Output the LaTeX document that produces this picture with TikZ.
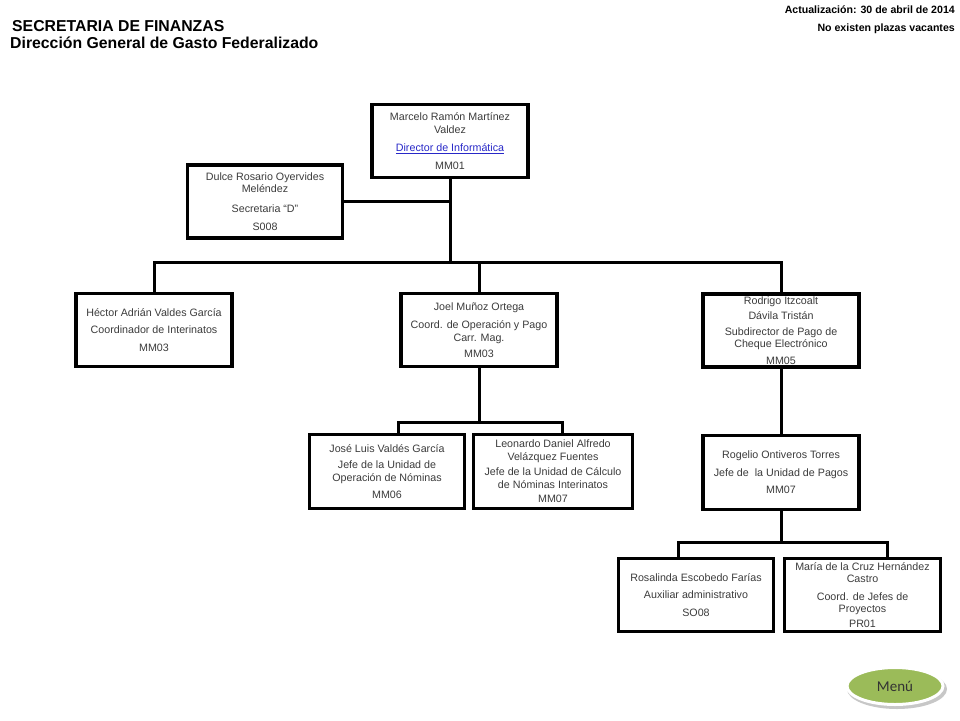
\documentclass[tikz,border=0pt]{standalone}
\usepackage{fontspec}
\setmainfont{Liberation Sans}
\newfontfamily\menufont{Carlito}
\usetikzlibrary{shapes.geometric}
\definecolor{txt}{RGB}{60,60,60}
\definecolor{lnk}{RGB}{40,40,200}
\definecolor{menugreen}{RGB}{155,187,89}
\begin{document}
\begin{tikzpicture}[x=1pt,y=-1pt,
  box/.style={draw=black, line width=3.5pt, rectangle, align=center, text=txt,
    font=\fontsize{10.7}{12.5}\selectfont, inner sep=0pt,
    minimum width=156pt, minimum height=73pt},
  conn/.style={draw=black, line width=3pt},
  head/.style={anchor=base west, inner sep=0pt, font=\fontsize{15.8}{18}\selectfont\bfseries},
  note/.style={anchor=base east, inner sep=0pt, font=\fontsize{10.6}{12}\selectfont\bfseries}]
\useasboundingbox (0,0) rectangle (960,720);
\fill[white] (0,0) rectangle (960,720);

% header
\node[head] (t1) at (12,31) {SECRETARIA DE FINANZAS};
\node[head] (t2) at (10,48) {Dirección General de Gasto Federalizado};
\node[note] (n1) at (955,13) {Actualización: 30 de abril de 2014};
\node[note] (n2) at (955,31) {No existen plazas vacantes};

% boxes
\node[box] (marcelo) at (450,141) {Marcelo Ramón Martínez\\Valdez\\[6pt]\textcolor{lnk}{\underline{Director de Informática}}\\[5pt]MM01};
\node[box, minimum width=155pt] (dulce) at (265,201.5) {Dulce Rosario Oyervides\\Meléndez\\[7pt]Secretaria “D”\\[6pt]S008};
\node[box] (hector) at (154,330) {Héctor Adrián Valdes García\\[5pt]Coordinador de Interinatos\\[5pt]MM03};
\node[box] (joel) at (479,330) {Joel Muñoz Ortega\\[6pt]Coord. de Operación y Pago\\Carr. Mag.\\[4pt]MM03};
\node[box] (rodrigo) at (781,330.5) {Rodrigo Itzcoalt\\[3pt]Dávila Tristán\\[3pt]Subdirector de Pago de\\Cheque Electrónico\\[4pt]MM05};
\node[box, minimum width=155pt, minimum height=74pt] (jose) at (387,471.5) {José Luis Valdés García\\[4pt]Jefe de la Unidad de\\Operación de Nóminas\\[5pt]MM06};
\node[box, minimum width=159pt, minimum height=74pt] (leonardo) at (553,471.5) {Leonardo Daniel Alfredo\\Velázquez Fuentes\\[3pt]Jefe de la Unidad de Cálculo\\de Nóminas Interinatos\\[2pt]MM07};
\node[box, minimum height=74pt] (rogelio) at (781,472.5) {Rogelio Ontiveros Torres\\[5pt]Jefe de\ \ la Unidad de Pagos\\[5pt]MM07};
\node[box, minimum width=155pt] (rosalinda) at (696,595) {Rosalinda Escobedo Farías\\[5pt]Auxiliar administrativo\\[5pt]SO08};
\node[box] (maria) at (862.5,595) {María de la Cruz Hernández\\Castro\\[5pt]Coord. de Jefes de\\Proyectos\\[2pt]PR01};

% connectors
\coordinate (b1) at (450,262);
\draw[conn] (marcelo.south) -- (b1);
\draw[conn] (dulce.east) -- (dulce.east -| marcelo.south);
\draw[conn] (hector.north) -- (hector.north |- b1) -- (rodrigo.north |- b1) -- (rodrigo.north);
\draw[conn] (joel.north |- b1) -- (joel.north);

\coordinate (jl) at (398,422);
\coordinate (jr) at (562,422);
\draw[conn] (joel.south) -- (joel.south |- jl);
\draw[conn] (jl |- jose.north) -- (jl) -- (jr) -- (jr |- leonardo.north);

\draw[conn] (rodrigo.south) -- (rogelio.north);

\coordinate (rl) at (678,542);
\coordinate (rr) at (887,542);
\draw[conn] (rogelio.south) -- (rogelio.south |- rl);
\draw[conn] (rl |- rosalinda.north) -- (rl) -- (rr) -- (rr |- maria.north);

% menu button
\node[ellipse, fill=black!22, minimum width=100pt, minimum height=40pt, inner sep=0pt] (menushadow) at (897,689) {};
\node[ellipse, draw=white, line width=3pt, fill=menugreen, minimum width=96pt, minimum height=37pt,
  inner sep=0pt, text=black!80, font=\menufont\fontsize{15}{18}\selectfont] (menu) at (895,686) {Menú};
\end{tikzpicture}
\end{document}
